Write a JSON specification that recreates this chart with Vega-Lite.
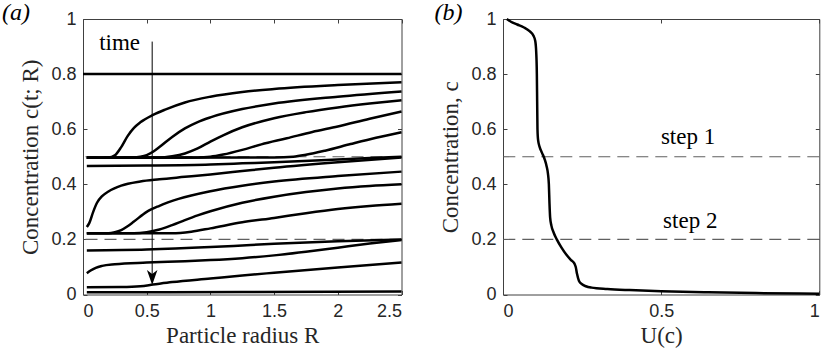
{
  "$schema": "https://vega.github.io/schema/vega-lite/v6.json",
  "background": "white",
  "padding": {"left": 1, "top": 0, "right": 2, "bottom": 0},
  "bounds": "flush",
  "spacing": 101,
  "config": {
    "view": {"stroke": "#404040", "strokeWidth": 1},
    "axis": {
      "grid": false, "domain": false, "tickColor": "#404040", "tickWidth": 1, "tickSize": -4,
      "labelFont": "Liberation Sans", "labelFontSize": 18, "labelColor": "#262626",
      "titleFont": "Liberation Serif", "titleFontSize": 23, "titleFontWeight": "normal", "titleColor": "#262626",
      "minExtent": 0
    },
    "axisX": {"labelPadding": 12, "titlePadding": 4},
    "axisY": {"labelPadding": 11, "titlePadding": 8},
    "text": {"font": "Liberation Serif", "fontSize": 23, "color": "black"}
  },
  "datasets": {
    "left": [
      {"curve": 1, "R": 0.0, "c": 0.8}, {"curve": 1, "R": 2.5, "c": 0.8},
      {"curve": 2, "R": 0.03, "c": 0.496}, {"curve": 2, "R": 0.2, "c": 0.497}, {"curve": 2, "R": 0.25, "c": 0.505}, {"curve": 2, "R": 0.3, "c": 0.535}, {"curve": 2, "R": 0.35, "c": 0.575}, {"curve": 2, "R": 0.4, "c": 0.605}, {"curve": 2, "R": 0.45, "c": 0.625}, {"curve": 2, "R": 0.55, "c": 0.652}, {"curve": 2, "R": 0.65, "c": 0.672}, {"curve": 2, "R": 0.8, "c": 0.697}, {"curve": 2, "R": 1.0, "c": 0.718}, {"curve": 2, "R": 1.25, "c": 0.735}, {"curve": 2, "R": 1.5, "c": 0.746}, {"curve": 2, "R": 2.0, "c": 0.76}, {"curve": 2, "R": 2.5, "c": 0.77},
      {"curve": 3, "R": 0.03, "c": 0.496}, {"curve": 3, "R": 0.4, "c": 0.497}, {"curve": 3, "R": 0.45, "c": 0.5}, {"curve": 3, "R": 0.5, "c": 0.506}, {"curve": 3, "R": 0.55, "c": 0.518}, {"curve": 3, "R": 0.6, "c": 0.535}, {"curve": 3, "R": 0.7, "c": 0.572}, {"curve": 3, "R": 0.8, "c": 0.603}, {"curve": 3, "R": 0.9, "c": 0.626}, {"curve": 3, "R": 1.0, "c": 0.643}, {"curve": 3, "R": 1.25, "c": 0.673}, {"curve": 3, "R": 1.5, "c": 0.693}, {"curve": 3, "R": 2.0, "c": 0.718}, {"curve": 3, "R": 2.5, "c": 0.737},
      {"curve": 4, "R": 0.03, "c": 0.496}, {"curve": 4, "R": 0.6, "c": 0.497}, {"curve": 4, "R": 0.7, "c": 0.502}, {"curve": 4, "R": 0.8, "c": 0.512}, {"curve": 4, "R": 0.9, "c": 0.53}, {"curve": 4, "R": 1.0, "c": 0.555}, {"curve": 4, "R": 1.1, "c": 0.578}, {"curve": 4, "R": 1.25, "c": 0.607}, {"curve": 4, "R": 1.5, "c": 0.64}, {"curve": 4, "R": 1.75, "c": 0.662}, {"curve": 4, "R": 2.0, "c": 0.679}, {"curve": 4, "R": 2.25, "c": 0.693}, {"curve": 4, "R": 2.5, "c": 0.705},
      {"curve": 5, "R": 0.03, "c": 0.496}, {"curve": 5, "R": 0.9, "c": 0.497}, {"curve": 5, "R": 1.0, "c": 0.5}, {"curve": 5, "R": 1.1, "c": 0.508}, {"curve": 5, "R": 1.25, "c": 0.525}, {"curve": 5, "R": 1.4, "c": 0.545}, {"curve": 5, "R": 1.6, "c": 0.567}, {"curve": 5, "R": 1.8, "c": 0.59}, {"curve": 5, "R": 2.0, "c": 0.61}, {"curve": 5, "R": 2.25, "c": 0.638}, {"curve": 5, "R": 2.5, "c": 0.664},
      {"curve": 6, "R": 0.03, "c": 0.496}, {"curve": 6, "R": 1.5, "c": 0.497}, {"curve": 6, "R": 1.65, "c": 0.5}, {"curve": 6, "R": 1.75, "c": 0.507}, {"curve": 6, "R": 1.9, "c": 0.522}, {"curve": 6, "R": 2.1, "c": 0.546}, {"curve": 6, "R": 2.3, "c": 0.569}, {"curve": 6, "R": 2.5, "c": 0.589},
      {"curve": 7, "R": 0.03, "c": 0.466}, {"curve": 7, "R": 0.5, "c": 0.468}, {"curve": 7, "R": 1.0, "c": 0.472}, {"curve": 7, "R": 1.25, "c": 0.476}, {"curve": 7, "R": 1.5, "c": 0.48}, {"curve": 7, "R": 2.0, "c": 0.49}, {"curve": 7, "R": 2.5, "c": 0.5},
      {"curve": 8, "R": 0.03, "c": 0.245}, {"curve": 8, "R": 0.05, "c": 0.26}, {"curve": 8, "R": 0.08, "c": 0.3}, {"curve": 8, "R": 0.11, "c": 0.333}, {"curve": 8, "R": 0.15, "c": 0.357}, {"curve": 8, "R": 0.2, "c": 0.374}, {"curve": 8, "R": 0.3, "c": 0.395}, {"curve": 8, "R": 0.45, "c": 0.41}, {"curve": 8, "R": 0.6, "c": 0.418}, {"curve": 8, "R": 0.8, "c": 0.427}, {"curve": 8, "R": 1.0, "c": 0.436}, {"curve": 8, "R": 1.25, "c": 0.448}, {"curve": 8, "R": 1.5, "c": 0.46}, {"curve": 8, "R": 2.0, "c": 0.48}, {"curve": 8, "R": 2.5, "c": 0.497},
      {"curve": 9, "R": 0.03, "c": 0.222}, {"curve": 9, "R": 0.2, "c": 0.222}, {"curve": 9, "R": 0.25, "c": 0.226}, {"curve": 9, "R": 0.3, "c": 0.234}, {"curve": 9, "R": 0.35, "c": 0.248}, {"curve": 9, "R": 0.4, "c": 0.265}, {"curve": 9, "R": 0.5, "c": 0.3}, {"curve": 9, "R": 0.6, "c": 0.322}, {"curve": 9, "R": 0.75, "c": 0.347}, {"curve": 9, "R": 1.0, "c": 0.375}, {"curve": 9, "R": 1.25, "c": 0.395}, {"curve": 9, "R": 1.5, "c": 0.41}, {"curve": 9, "R": 2.0, "c": 0.43}, {"curve": 9, "R": 2.5, "c": 0.446},
      {"curve": 10, "R": 0.03, "c": 0.222}, {"curve": 10, "R": 0.4, "c": 0.222}, {"curve": 10, "R": 0.5, "c": 0.226}, {"curve": 10, "R": 0.6, "c": 0.236}, {"curve": 10, "R": 0.7, "c": 0.252}, {"curve": 10, "R": 0.8, "c": 0.27}, {"curve": 10, "R": 0.9, "c": 0.287}, {"curve": 10, "R": 1.0, "c": 0.302}, {"curve": 10, "R": 1.25, "c": 0.333}, {"curve": 10, "R": 1.5, "c": 0.355}, {"curve": 10, "R": 1.75, "c": 0.372}, {"curve": 10, "R": 2.0, "c": 0.385}, {"curve": 10, "R": 2.25, "c": 0.394}, {"curve": 10, "R": 2.5, "c": 0.4},
      {"curve": 11, "R": 0.03, "c": 0.222}, {"curve": 11, "R": 0.7, "c": 0.222}, {"curve": 11, "R": 0.85, "c": 0.228}, {"curve": 11, "R": 1.0, "c": 0.24}, {"curve": 11, "R": 1.25, "c": 0.262}, {"curve": 11, "R": 1.5, "c": 0.278}, {"curve": 11, "R": 1.75, "c": 0.295}, {"curve": 11, "R": 2.0, "c": 0.31}, {"curve": 11, "R": 2.25, "c": 0.321}, {"curve": 11, "R": 2.5, "c": 0.329},
      {"curve": 12, "R": 0.03, "c": 0.16}, {"curve": 12, "R": 0.5, "c": 0.163}, {"curve": 12, "R": 1.0, "c": 0.172}, {"curve": 12, "R": 1.25, "c": 0.178}, {"curve": 12, "R": 1.5, "c": 0.184}, {"curve": 12, "R": 2.0, "c": 0.193}, {"curve": 12, "R": 2.5, "c": 0.2},
      {"curve": 13, "R": 0.03, "c": 0.077}, {"curve": 13, "R": 0.06, "c": 0.087}, {"curve": 13, "R": 0.1, "c": 0.097}, {"curve": 13, "R": 0.15, "c": 0.104}, {"curve": 13, "R": 0.25, "c": 0.11}, {"curve": 13, "R": 0.5, "c": 0.116}, {"curve": 13, "R": 0.8, "c": 0.121}, {"curve": 13, "R": 1.0, "c": 0.125}, {"curve": 13, "R": 1.25, "c": 0.132}, {"curve": 13, "R": 1.5, "c": 0.142}, {"curve": 13, "R": 1.75, "c": 0.155}, {"curve": 13, "R": 2.0, "c": 0.17}, {"curve": 13, "R": 2.25, "c": 0.185}, {"curve": 13, "R": 2.5, "c": 0.198},
      {"curve": 14, "R": 0.03, "c": 0.026}, {"curve": 14, "R": 0.3, "c": 0.027}, {"curve": 14, "R": 0.45, "c": 0.03}, {"curve": 14, "R": 0.55, "c": 0.036}, {"curve": 14, "R": 0.7, "c": 0.045}, {"curve": 14, "R": 1.0, "c": 0.058}, {"curve": 14, "R": 1.25, "c": 0.069}, {"curve": 14, "R": 1.5, "c": 0.079}, {"curve": 14, "R": 2.0, "c": 0.098}, {"curve": 14, "R": 2.5, "c": 0.116},
      {"curve": 15, "R": 0.03, "c": 0.008}, {"curve": 15, "R": 1.25, "c": 0.009}, {"curve": 15, "R": 2.5, "c": 0.011}
    ],
    "right": [
      {"i": 1, "c": 1.0, "U": 0.012}, {"i": 2, "c": 0.99, "U": 0.025}, {"i": 3, "c": 0.98, "U": 0.045}, {"i": 4, "c": 0.97, "U": 0.065}, {"i": 5, "c": 0.955, "U": 0.085}, {"i": 6, "c": 0.94, "U": 0.096}, {"i": 7, "c": 0.92, "U": 0.102}, {"i": 8, "c": 0.88, "U": 0.105}, {"i": 9, "c": 0.8, "U": 0.107}, {"i": 10, "c": 0.7, "U": 0.108}, {"i": 11, "c": 0.6, "U": 0.109}, {"i": 12, "c": 0.56, "U": 0.111}, {"i": 13, "c": 0.535, "U": 0.116}, {"i": 14, "c": 0.515, "U": 0.123}, {"i": 15, "c": 0.49, "U": 0.132}, {"i": 16, "c": 0.465, "U": 0.138}, {"i": 17, "c": 0.44, "U": 0.142}, {"i": 18, "c": 0.4, "U": 0.145}, {"i": 19, "c": 0.33, "U": 0.147}, {"i": 20, "c": 0.28, "U": 0.149}, {"i": 21, "c": 0.25, "U": 0.153}, {"i": 22, "c": 0.225, "U": 0.16}, {"i": 23, "c": 0.2, "U": 0.17}, {"i": 24, "c": 0.17, "U": 0.185}, {"i": 25, "c": 0.145, "U": 0.2}, {"i": 26, "c": 0.125, "U": 0.215}, {"i": 27, "c": 0.112, "U": 0.226}, {"i": 28, "c": 0.1, "U": 0.23}, {"i": 29, "c": 0.075, "U": 0.234}, {"i": 30, "c": 0.05, "U": 0.24}, {"i": 31, "c": 0.037, "U": 0.25}, {"i": 32, "c": 0.03, "U": 0.262}, {"i": 33, "c": 0.025, "U": 0.28}, {"i": 34, "c": 0.02, "U": 0.33}, {"i": 35, "c": 0.016, "U": 0.4}, {"i": 36, "c": 0.012, "U": 0.5}, {"i": 37, "c": 0.008, "U": 0.65}, {"i": 38, "c": 0.005, "U": 0.8}, {"i": 39, "c": 0.003, "U": 1.0}
    ],
    "steps": [{"c": 0.5}, {"c": 0.2}]
  },
  "hconcat": [
    {
      "width": 318.5,
      "height": 275.5,
      "title": {"text": "(a)", "anchor": "start", "frame": "group", "orient": "top", "offset": -34, "dx": -81, "dy": 0, "baseline": "alphabetic", "font": "Liberation Serif", "fontStyle": "italic", "fontSize": 24, "fontWeight": "normal", "color": "black"},
      "layer": [
        {
          "data": {"name": "steps"},
          "mark": {"type": "rule", "strokeDash": [12, 7], "color": "#606060", "strokeWidth": 1.1},
          "encoding": {"y": {"field": "c", "type": "quantitative", "scale": {"domain": [0, 1], "nice": false, "zero": false}, "axis": null}}
        },
        {
          "data": {"name": "left"},
          "mark": {"type": "line", "interpolate": "monotone", "color": "black", "strokeWidth": 2.5},
          "encoding": {
            "x": {"field": "R", "type": "quantitative", "scale": {"domain": [0, 2.5], "nice": false, "zero": false}, "axis": {"orient": "bottom", "values": [0, 0.5, 1, 1.5, 2, 2.5], "format": "~g", "title": "Particle radius R"}},
            "y": {"field": "c", "type": "quantitative", "scale": {"domain": [0, 1], "nice": false, "zero": false}, "axis": {"orient": "left", "values": [0, 0.2, 0.4, 0.6, 0.8, 1], "format": "~g", "title": "Concentration c(t; R)"}},
            "detail": {"field": "curve", "type": "nominal"}
          }
        },
        {
          "data": {"values": [{"R": 0.543, "c": 0.918, "c2": 0.06}]},
          "mark": {"type": "rule", "color": "black", "strokeWidth": 1},
          "encoding": {
            "x": {"field": "R", "type": "quantitative", "scale": {"domain": [0, 2.5], "nice": false, "zero": false}, "axis": {"orient": "top", "values": [0, 0.5, 1, 1.5, 2, 2.5], "labels": false, "title": null}},
            "y": {"field": "c", "type": "quantitative", "scale": {"domain": [0, 1], "nice": false, "zero": false}, "axis": {"orient": "right", "values": [0, 0.2, 0.4, 0.6, 0.8, 1], "labels": false, "title": null}},
            "y2": {"field": "c2"}
          }
        },
        {
          "data": {"values": [{"R": 0.543, "c": 0.062}]},
          "mark": {"type": "point", "shape": "M0,1 L-0.7,-1 L0,-0.45 L0.7,-1 Z", "filled": true, "size": 225, "color": "black", "opacity": 1},
          "encoding": {
            "x": {"field": "R", "type": "quantitative", "scale": {"domain": [0, 2.5], "nice": false, "zero": false}, "axis": null},
            "y": {"field": "c", "type": "quantitative", "scale": {"domain": [0, 1], "nice": false, "zero": false}, "axis": null}
          }
        },
        {
          "data": {"values": [{"R": 0.287, "c": 0.889, "label": "time"}]},
          "mark": {"type": "text", "align": "center", "baseline": "alphabetic"},
          "encoding": {
            "x": {"field": "R", "type": "quantitative", "scale": {"domain": [0, 2.5], "nice": false, "zero": false}, "axis": null},
            "y": {"field": "c", "type": "quantitative", "scale": {"domain": [0, 1], "nice": false, "zero": false}, "axis": null},
            "text": {"field": "label"}
          }
        }
      ],
      "resolve": {"axis": {"x": "independent", "y": "independent"}}
    },
    {
      "width": 316.3,
      "height": 275.5,
      "title": {"text": "(b)", "anchor": "start", "frame": "group", "orient": "top", "offset": -34, "dx": -68.5, "dy": 0, "baseline": "alphabetic", "font": "Liberation Serif", "fontStyle": "italic", "fontSize": 24, "fontWeight": "normal", "color": "black"},
      "layer": [
        {
          "data": {"name": "steps"},
          "mark": {"type": "rule", "strokeDash": [12, 7], "color": "#606060", "strokeWidth": 1.1},
          "encoding": {"y": {"field": "c", "type": "quantitative", "scale": {"domain": [0, 1], "nice": false, "zero": false}, "axis": null}}
        },
        {
          "data": {"name": "right"},
          "mark": {"type": "line", "interpolate": "monotone", "color": "black", "strokeWidth": 2.5},
          "encoding": {
            "x": {"field": "U", "type": "quantitative", "scale": {"domain": [0, 1], "nice": false, "zero": false}, "axis": {"orient": "bottom", "values": [0, 0.5, 1], "format": "~g", "title": "U(c)"}},
            "y": {"field": "c", "type": "quantitative", "scale": {"domain": [0, 1], "nice": false, "zero": false}, "axis": {"orient": "left", "values": [0, 0.2, 0.4, 0.6, 0.8, 1], "format": "~g", "title": "Concentration, c"}},
            "order": {"field": "i", "type": "quantitative"}
          }
        },
        {
          "data": {"values": [{"U": 0.585, "c": 0.546, "label": "step 1"}, {"U": 0.592, "c": 0.241, "label": "step 2"}]},
          "mark": {"type": "text", "align": "center", "baseline": "alphabetic"},
          "encoding": {
            "x": {"field": "U", "type": "quantitative", "scale": {"domain": [0, 1], "nice": false, "zero": false}, "axis": {"orient": "top", "values": [0, 0.5, 1], "labels": false, "title": null}},
            "y": {"field": "c", "type": "quantitative", "scale": {"domain": [0, 1], "nice": false, "zero": false}, "axis": {"orient": "right", "values": [0, 0.2, 0.4, 0.6, 0.8, 1], "labels": false, "title": null}},
            "text": {"field": "label"}
          }
        }
      ],
      "resolve": {"axis": {"x": "independent", "y": "independent"}}
    }
  ]
}
